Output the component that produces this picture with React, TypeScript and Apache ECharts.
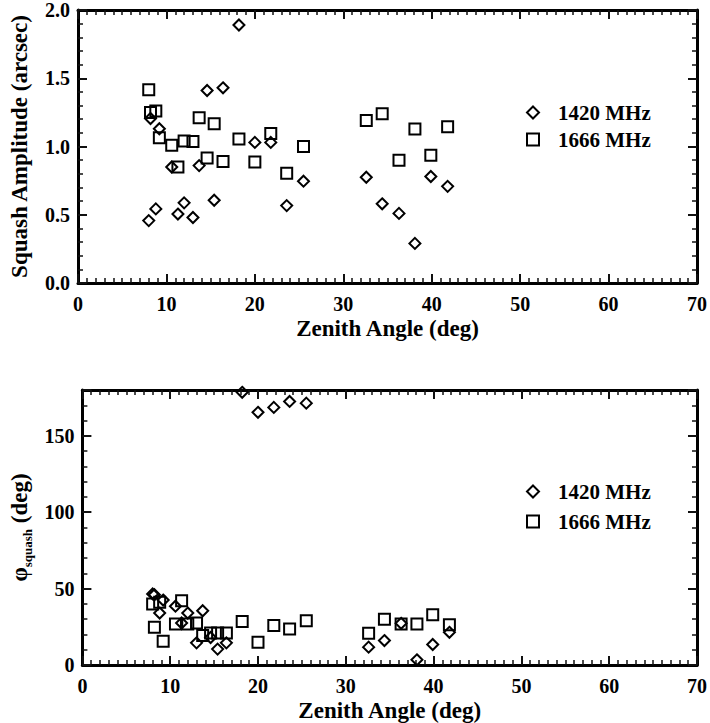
import React, { useEffect, useRef } from "react";
import * as echarts from "echarts";

const zenith = [8.0, 8.2, 8.8, 9.2, 10.6, 11.3, 12.0, 13.0, 13.7, 14.6, 15.4, 16.4, 18.2, 20.0, 21.8, 23.6, 25.5, 32.6, 34.4, 36.3, 38.1, 39.9, 41.8];
const amp1420 = [0.457, 1.205, 0.543, 1.13, 0.85, 0.505, 0.587, 0.48, 0.86, 1.41, 0.606, 1.43, 1.89, 1.03, 1.03, 0.567, 0.746, 0.775, 0.58, 0.51, 0.29, 0.78, 0.708];
const amp1666 = [1.415, 1.25, 1.26, 1.065, 1.01, 0.85, 1.04, 1.036, 1.21, 0.915, 1.167, 0.89, 1.055, 0.886, 1.096, 0.804, 1.0, 1.19, 1.24, 0.9, 1.128, 0.935, 1.145];
const phi1420 = [46.5, 46, 34, 42.5, 38.5, 27.5, 34, 14.5, 35.5, 18, 10.4, 14.5, 178.5, 165.4, 168.6, 172.5, 171.4, 11.7, 16, 27.3, 3.4, 13.4, 21.4];
const phi1666 = [40, 24.7, 41, 15.6, 26.8, 42, 26.8, 27.5, 19.3, 21, 21, 21, 28.4, 14.9, 25.8, 23.6, 29, 20.8, 30, 26.8, 26.8, 32.9, 26.4];
const seriesNames = ["1420 MHz", "1666 MHz"];
const xLabelName = "Zenith Angle (deg)";

const FONT = "Liberation Serif";
const INK = "#111111";

function pairs(xs: number[], ys: number[]) {
  return xs.map((x, i) => [x, ys[i]]);
}

function tickOpts(minorSplit: number) {
  return {
    axisLine: { show: true, onZero: false, lineStyle: { color: "#000", width: 3 } },
    axisTick: { show: true, inside: true, length: 9, lineStyle: { color: INK, width: 2 } },
    minorTick: { show: true, splitNumber: minorSplit, length: 5, lineStyle: { color: INK, width: 1.5 } },
    splitLine: { show: false },
  };
}

export default function App() {
  const ref = useRef<HTMLDivElement>(null);
  useEffect(() => {
    const chart = echarts.init(ref.current!, null, { renderer: "svg" });
    const tickStyle = () => ({ color: "#000", fontFamily: FONT, fontWeight: "bold", fontSize: 20 });
    const titleStyle = () => ({ color: "#000", fontFamily: FONT, fontWeight: "bold", fontSize: 23 });
    const legendStyle = () => ({ color: "#000", fontFamily: FONT, fontWeight: "bold", fontSize: 21, padding: [0, 0, 0, 14] });
    const sym = (name: string, symbol: string, xi: number, yi: number, data: number[][]) => ({
      type: "scatter",
      name,
      xAxisIndex: xi,
      yAxisIndex: yi,
      symbol,
      symbolSize: 11,
      itemStyle: { color: "rgba(255,255,255,0)", borderColor: "#000", borderWidth: 2, opacity: 1 },
      data,
    });
    const legend = (top: number, gap: number) => ({
      orient: "vertical",
      left: 521,
      top,
      itemWidth: 12,
      itemHeight: 12,
      itemGap: gap,
      data: seriesNames,
      textStyle: legendStyle(),
      selectedMode: false,
    });
    const xAx = (g: number, position: string, labelled: boolean) => ({
      type: "value",
      gridIndex: g,
      position,
      min: 0,
      max: 70,
      interval: 10,
      ...tickOpts(10),
      axisLabel: labelled ? { ...tickStyle(), margin: 11 } : { show: false },
      ...(labelled
        ? { name: xLabelName, nameLocation: "middle", nameGap: 34, nameTextStyle: titleStyle() }
        : {}),
    });
    const yAx = (g: number, position: string, max: number, interval: number, labelled: boolean) => ({
      type: "value",
      gridIndex: g,
      position,
      min: 0,
      max,
      interval,
      ...tickOpts(5),
      axisLabel: labelled
        ? g === 0
          ? { ...tickStyle(), margin: 8, formatter: (v: number) => v.toFixed(1) }
          : { ...tickStyle(), margin: 8, showMaxLabel: false }
        : { show: false },
    });
    chart.setOption({
      animation: false,
      legend: [legend(97, 6), legend(476, 9)],
      grid: [
        { left: 76, right: 12, top: 6, height: 277 },
        { left: 76, right: 12, top: 390, height: 277 },
      ],
      xAxis: [xAx(0, "bottom", true), xAx(0, "top", false), xAx(1, "bottom", true), xAx(1, "top", false)],
      yAxis: [
        {
          ...yAx(0, "left", 2, 0.5, true),
          name: "Squash Amplitude (arcsec)",
          nameLocation: "middle",
          nameGap: 47,
          nameTextStyle: titleStyle(),
        },
        yAx(0, "right", 2, 0.5, false),
        {
          ...yAx(1, "left", 180, 50, true),
          name: "{phi|φ}{sub|squash}{b| (deg)}",
          nameLocation: "middle",
          nameGap: 47,
          nameTextStyle: {
            ...titleStyle(),
            rich: {
              phi: { fontFamily: FONT, fontSize: 23, color: "#000", verticalAlign: "middle", lineHeight: 28 },
              sub: { fontFamily: FONT, fontSize: 13, color: "#000", verticalAlign: "bottom", lineHeight: 28 },
              b: { fontFamily: FONT, fontSize: 23, fontWeight: "bold", color: "#000", verticalAlign: "middle", lineHeight: 28 },
            },
          },
        },
        yAx(1, "right", 180, 50, false),
      ],
      series: [
        sym(seriesNames[0], "diamond", 0, 0, pairs(zenith, amp1420)),
        sym(seriesNames[1], "rect", 0, 0, pairs(zenith, amp1666)),
        sym(seriesNames[0], "diamond", 2, 2, pairs(zenith, phi1420)),
        sym(seriesNames[1], "rect", 2, 2, pairs(zenith, phi1666)),
      ],
    });
    return () => chart.dispose();
  }, []);
  return (
    <div style={{ position: "fixed", left: 0, top: 0, width: 710, height: 723, background: "#fff" }}>
      <div ref={ref} style={{ width: 710, height: 723 }} />
    </div>
  );
}
